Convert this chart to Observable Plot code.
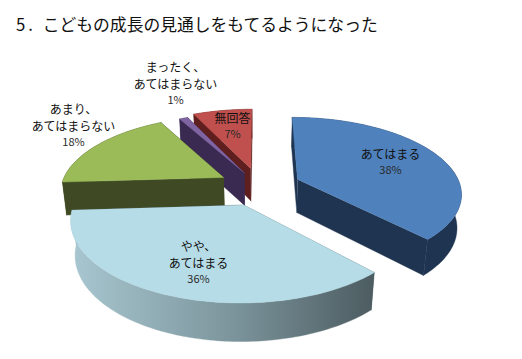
<!DOCTYPE html>
<html lang="ja">
<head>
<meta charset="utf-8">
<script src="https://cdn.jsdelivr.net/npm/d3@7"></script>
<script src="https://cdn.jsdelivr.net/npm/@observablehq/plot@0.6"></script>
<style>
  html, body { margin: 0; padding: 0; background: #fff; }
  #title { height: 40px; box-sizing: border-box; padding: 14px 0 0 16px; font: 16.8px/20px "Noto Sans CJK JP", sans-serif; color: #111; white-space: nowrap; }
  #title span { letter-spacing: 3px; margin-right: 3px; }
  svg { display: block; }
</style>
</head>
<body>
<div id="title"><span>5.</span> こどもの成長の見通しをもてるようになった</div>
<div id="chart"></div>
<script>
// Data
const categories = ["あてはまる", "やや、\nあてはまる", "あまり、\nあてはまらない", "まったく、\nあてはまらない", "無回答"];
const shares = [38, 36, 18, 1, 7];
const percentLabels = ["38%", "36%", "18%", "1%", "7%"];

// Styles
const topColors = ["#4f81bd", "#b6dce7", "#9bbb59", "#8064a2", "#c0504d"];
const wallColors = ["#1f3450", "url(#wallGradient)", "#3f4a24", "#3a2a52", "#5e1f1e"];
const drawOrder = [4, 3, 2, 0, 1];          // far slices first

// Layout: centre of the percent row of each label (pixels), and how far each slice is pulled out
const labelAnchors = [[390, 170], [198, 279], [73, 142], [175, 100], [232, 134]];
const explosion = [0.255, 0.255, 0.255, 0.21, 0.255];

// 3-D view of the exploded pie
const view = {cx: 259, cy: 186, a: 163, b: 74.7, k: 0.167, depth: 34, shrink: 0.022};
function project(X, Y, Z) {
  const d = 1 + view.k * Y + view.shrink * Z;
  return {x: view.cx + view.a * X / d, y: view.cy + (-view.b * Y + view.depth * Z) / d};
}

const total = d3.sum(shares);
let cumulative = 0;
const slices = shares.map((v, i) => {
  const a0 = cumulative / total * 2 * Math.PI;
  cumulative += v;
  const a1 = cumulative / total * 2 * Math.PI;
  const mid = (a0 + a1) / 2;
  const ox = explosion[i] * Math.sin(mid), oy = explosion[i] * Math.cos(mid);
  const n = Math.max(4, Math.ceil((a1 - a0) / 0.02));
  const angles = d3.range(n + 1).map(j => a0 + (a1 - a0) * j / n);
  const rim = Z => angles.map(t => project(ox + Math.sin(t), oy + Math.cos(t), Z));
  const centre = Z => project(ox, oy, Z);
  const edge = (t, Z) => project(ox + Math.sin(t), oy + Math.cos(t), Z);
  return {
    radial0: [centre(0), edge(a0, 0), edge(a0, 1), centre(1)],
    radial1: [centre(0), edge(a1, 0), edge(a1, 1), centre(1)],
    wall: [...rim(0), ...rim(1).reverse()],
    top: [centre(0), ...rim(0)]
  };
});
const face = (pts, fill) => Plot.line(pts, {x: "x", y: "y", fill, stroke: fill, strokeWidth: 0.4, curve: "linear"});
const sideColor = i => i === 1 ? "#5b6f75" : wallColors[i];
const marks = [
  () => {
    const defs = d3.create("svg:defs");
    const g = defs.append("linearGradient").attr("id", "wallGradient").attr("x1", 0).attr("x2", 1).attr("y1", 0).attr("y2", 0);
    g.append("stop").attr("offset", "0%").attr("stop-color", "#a8c7d0");
    g.append("stop").attr("offset", "50%").attr("stop-color", "#7f98a0");
    g.append("stop").attr("offset", "100%").attr("stop-color", "#4c5c61");
    return defs.node();
  }
];
for (const i of drawOrder) {
  const s = slices[i];
  marks.push(face(s.radial0, sideColor(i)), face(s.radial1, sideColor(i)), face(s.wall, wallColors[i]), face(s.top, topColors[i]));
}

const labels = categories.map((name, i) => ({name, pct: percentLabels[i], x: labelAnchors[i][0], y: labelAnchors[i][1]}));
marks.push(
  Plot.text(labels, {x: "x", y: "y", text: "name", dy: -11.5, lineAnchor: "bottom", lineHeight: 1.42, fontSize: 12, fill: "#111", fontFamily: "Noto Sans CJK JP"}),
  Plot.text(labels, {x: "x", y: "y", text: "pct", fontSize: 11, fill: "#2a2a2a", fontFamily: "Noto Sans CJK JP"})
);

const chart = Plot.plot({
  width: 522, height: 319,
  margin: 0,
  x: {domain: [0, 522], range: [0, 522], axis: null},
  y: {domain: [40, 359], range: [0, 319], axis: null},
  style: {background: "#fff"},
  marks
});
document.getElementById("chart").append(chart);
</script>
</body>
</html>
